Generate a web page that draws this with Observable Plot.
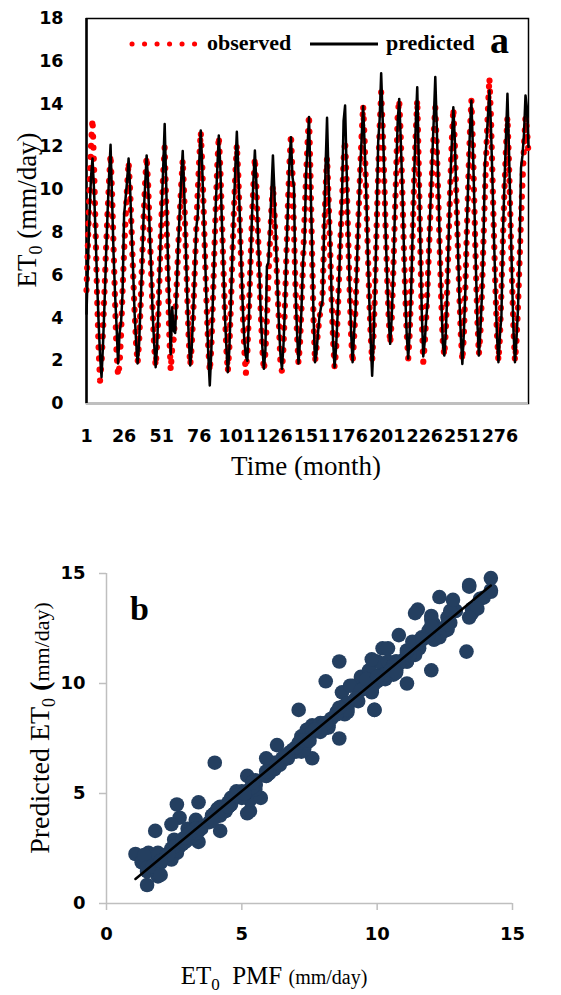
<!DOCTYPE html>
<html><head><meta charset="utf-8">
<script src="https://cdn.jsdelivr.net/npm/d3@7"></script>
<script src="https://cdn.jsdelivr.net/npm/@observablehq/plot@0.6"></script>
<style>
html,body{margin:0;padding:0;background:#fff;}
#wrap{position:relative;width:561px;height:995px;overflow:hidden;background:#fff;}
#a{position:absolute;left:0;top:0;}
#b{position:absolute;left:0;top:480px;}
</style></head><body>
<div id="wrap"><div id="a"></div><div id="b"></div></div>
<script>
// Observed ET0 (mm/day), monthly (red dotted)
const observed = [
 5.3, 7.6, 9.9, 12.0, 13.3,
 11.1, 8.2, 5.2, 2.7, 1.07, 1.9, 3.4, 5.3, 7.2, 8.9, 10.4, 11.65,
 9.8, 7.3, 4.8, 2.4, 1.3, 1.8, 3.3, 5.3, 7.1, 8.7, 10.1, 11.3,
 10.0, 8.1, 6.1, 4.3, 2.8, 1.9, 2.9, 4.6, 6.7, 8.7, 10.3, 11.55,
 10.2, 8.2, 6.2, 4.3, 2.7, 1.75, 2.8, 4.6, 6.9, 8.9, 10.7, 12.0,
 9.4, 6.3, 3.4, 1.55, 2.6, 3.0, 4.2, 5.5, 7.3, 8.8, 10.2, 11.4,
 9.7, 7.4, 5.1, 3.0, 1.8, 2.7, 4.2, 6.2, 8.1, 9.9, 11.4, 12.7,
 11.1, 8.9, 6.5, 4.4, 2.6, 1.5, 2.6, 4.6, 7.0, 9.2, 11.1, 12.5,
 11.0, 8.8, 6.5, 4.4, 2.6, 1.5, 2.6, 4.5, 6.8, 8.9, 10.7, 12.1,
 10.6, 8.5, 6.2, 4.2, 2.5, 1.39, 2.4, 4.2, 6.4, 8.5, 10.2, 11.5,
 10.1, 8.1, 6.0, 4.1, 2.5, 1.55, 2.4, 4.0, 5.9, 7.6, 9.1, 10.2,
 9.0, 7.2, 5.4, 3.8, 1.9, 1.5, 2.6, 4.6, 7.0, 9.3, 11.2, 12.6,
 10.7, 8.1, 5.5, 3.3, 1.9, 2.8, 4.5, 6.5, 8.6, 10.5, 12.1, 13.5,
 10.6, 7.2, 4.0, 1.95, 2.6, 3.4, 4.0, 4.5, 5.0, 7.6, 10.0, 11.5,
 9.7, 7.4, 5.0, 3.0, 1.7, 2.5, 4.0, 5.9, 7.8, 9.5, 11.4, 12.3,
 10.4, 7.9, 5.4, 3.2, 1.9, 3.1, 4.5, 6.7, 8.9, 10.8, 12.5, 13.93,
 12.3, 9.9, 7.4, 5.1, 3.2, 2.0, 3.3, 5.5, 8.3, 10.8, 12.9, 14.55,
 12.9, 10.6, 8.1, 5.9, 4.0, 2.8, 3.9, 6.0, 8.5, 10.8, 13.5, 14.2,
 12.5, 10.1, 7.5, 5.2, 3.3, 2.1, 3.3, 5.5, 8.1, 10.6, 12.6, 14.2,
 11.1, 7.5, 4.1, 1.93, 2.8, 4.1, 5.7, 7.6, 9.4, 11.1, 12.7, 13.85,
 12.0, 9.6, 7.1, 4.8, 2.9, 2.24, 3.4, 5.5, 8.0, 10.3, 12.3, 13.8,
 12.1, 9.8, 7.3, 5.1, 3.2, 2.0, 3.2, 5.4, 8.1, 10.5, 12.6, 14.2,
 12.1, 9.2, 6.3, 3.9, 2.3, 3.3, 5.1, 7.5, 9.8, 11.9, 13.7, 15.22,
 13.4, 10.7, 7.9, 5.4, 3.3, 2.0, 3.1, 5.2, 7.7, 10.0, 11.9, 13.4,
 11.3, 8.6, 5.9, 3.5, 2.0, 2.9, 4.5, 6.6, 8.6, 10.4, 12.0, 13.4,
 12.8, 11.67
];
// Predicted ET0 (mm/day), monthly (black line)
const predicted = [
 4.2, 6.6, 8.8, 10.6, 11.45,
 10.0, 8.0, 5.8, 3.9, 2.25, 1.23, 2.8, 4.7, 6.9, 8.9, 10.6, 12.1,
 9.6, 7.0, 5.1, 3.6, 1.87, 3.3, 3.8, 5.2, 8.8, 9.6, 10.4, 11.45,
 10.1, 8.0, 6.2, 4.2, 2.9, 1.87, 2.8, 4.7, 6.6, 8.8, 10.2, 11.6,
 10.3, 8.1, 6.3, 4.2, 2.8, 1.7, 2.7, 4.8, 7.0, 9.1, 11.0, 13.07,
 10.3, 7.2, 4.6, 2.3, 4.5, 3.4, 3.3, 5.4, 7.4, 9.0, 10.5, 11.8,
 9.9, 7.5, 5.0, 3.1, 1.78, 2.6, 4.3, 6.1, 8.2, 8.8, 11.3, 12.76,
 11.0, 8.7, 6.6, 4.3, 2.3, 0.84, 2.4, 4.7, 6.9, 9.3, 11.0, 12.53,
 11.1, 8.6, 6.5, 4.2, 2.7, 1.46, 2.5, 4.6, 6.9, 9.1, 11.0, 12.7,
 10.9, 8.7, 6.4, 4.4, 2.9, 2.2, 2.0, 4.0, 6.3, 8.6, 10.4, 11.83,
 10.3, 8.0, 6.1, 4.0, 2.6, 1.62, 2.5, 6.4, 6.6, 8.1, 9.9, 11.6,
 9.9, 7.6, 5.5, 3.7, 2.3, 1.62, 2.7, 4.5, 7.1, 9.2, 11.3, 12.45,
 10.6, 10.1, 5.4, 3.4, 1.87, 2.9, 4.4, 6.6, 7.5, 10.6, 12.0, 13.4,
 10.4, 7.4, 4.1, 1.93, 2.4, 3.3, 4.1, 4.5, 4.8, 8.0, 11.0, 13.36,
 10.6, 7.9, 5.1, 2.9, 1.7, 2.6, 4.1, 5.8, 8.0, 9.8, 13.2, 13.93,
 11.0, 8.2, 5.5, 3.3, 1.93, 3.3, 4.4, 6.8, 8.8, 10.9, 12.4, 13.9,
 12.1, 10.0, 7.3, 5.0, 3.0, 1.3, 3.0, 5.6, 8.4, 12.2, 13.3, 15.44,
 13.3, 10.8, 8.0, 5.8, 3.9, 2.79, 4.0, 5.9, 8.6, 10.9, 13.2, 14.24,
 12.4, 10.2, 7.6, 5.1, 3.2, 2.1, 3.4, 5.4, 8.2, 10.8, 13.0, 14.79,
 11.4, 7.7, 4.3, 2.2, 2.9, 4.0, 4.8, 7.8, 9.7, 11.5, 13.3, 15.26,
 12.9, 10.2, 7.3, 4.9, 2.8, 2.24, 3.3, 5.2, 8.1, 10.4, 12.2, 13.85,
 12.3, 9.7, 7.4, 5.0, 3.1, 1.85, 3.3, 5.3, 8.2, 10.6, 12.7, 14.17,
 12.0, 9.3, 6.4, 3.8, 2.24, 3.4, 5.0, 7.4, 11.1, 12.2, 13.4, 14.63,
 13.0, 10.5, 7.8, 5.5, 3.2, 1.93, 3.2, 4.1, 7.9, 10.3, 12.4, 14.48,
 11.9, 8.9, 6.0, 3.4, 1.93, 3.0, 4.4, 6.7, 11.0, 11.6, 12.6, 14.4,
 13.8, 12.0
];
const xTickLabels = [1, 26, 51, 76, 101, 126, 151, 176, 201, 226, 251, 276];
const yTicksA = [0, 2, 4, 6, 8, 10, 12, 14, 16, 18];
const ticksB = [0, 5, 10, 15];

const N = observed.length;
const rows = observed.map((o, i) => ({m: i + 1, o, p: predicted[i]}));
const scatter = rows.filter(d => d.o <= 15 && d.p <= 15);

const SERIF = "'Liberation Serif', 'Times New Roman', serif";
const SANS = "'DejaVu Sans', sans-serif";

// ---------- Panel a ----------
const svgA = Plot.plot({
  width: 561, height: 480,
  marginLeft: 86, marginRight: 33, marginTop: 18, marginBottom: 77,
  x: {domain: [1, N], label: null},
  y: {domain: [0, 18], label: null},
  style: {fontFamily: SANS, background: "white", overflow: "visible"},
  marks: [
    Plot.frame({stroke: "black", strokeWidth: 1.5}),
    Plot.ruleY([0], {stroke: "#bfbfbf", strokeWidth: 2.5}),
    Plot.ruleX([1], {stroke: "black", strokeWidth: 2.5}),
    Plot.axisY({ticks: yTicksA, tickSize: 0, tickPadding: 23, fontSize: 17.5, fontWeight: "bold", fill: "black", label: null, tickFormat: d => String(d)}),
    Plot.axisX({ticks: xTickLabels, tickSize: 0, tickPadding: 26, fontSize: 17.5, fontWeight: "bold", fill: "black", label: null, tickFormat: d => String(d)}),
    Plot.line(rows, {x: "m", y: "o", stroke: "#ff0000", strokeWidth: 6.2, strokeDasharray: "0.1 11", strokeLinecap: "round"}),
    Plot.line(rows, {x: "m", y: "p", stroke: "black", strokeWidth: 2.5})
  ]
});
document.getElementById("a").appendChild(svgA);
{
  const s = d3.select(svgA);
  const yt = s.append("text").attr("transform", "translate(36,210) rotate(-90)")
    .attr("text-anchor", "middle").attr("font-family", SERIF).attr("font-size", 27).attr("fill", "black");
  yt.append("tspan").text("ET");
  yt.append("tspan").attr("font-size", 18).attr("dy", 6).text("0");
  yt.append("tspan").attr("dy", -6).text(" (mm/day)");
  s.append("text").attr("x", 306).attr("y", 475).attr("text-anchor", "middle")
    .attr("font-family", SERIF).attr("font-size", 27).attr("fill", "black").text("Time (month)");
  s.append("line").attr("x1", 132).attr("x2", 197).attr("y1", 44).attr("y2", 44)
    .attr("stroke", "#ff0000").attr("stroke-width", 5).attr("stroke-dasharray", "0.1 12.4").attr("stroke-linecap", "round");
  s.append("text").attr("x", 207).attr("y", 50).attr("text-anchor", "start").attr("font-family", SERIF).attr("font-weight", "bold")
    .attr("font-size", 22).attr("fill", "black").text("observed");
  s.append("line").attr("x1", 310).attr("x2", 378).attr("y1", 44).attr("y2", 44)
    .attr("stroke", "black").attr("stroke-width", 3);
  s.append("text").attr("x", 386).attr("y", 50).attr("text-anchor", "start").attr("font-family", SERIF).attr("font-weight", "bold")
    .attr("font-size", 22).attr("fill", "black").text("predicted");
  s.append("text").attr("x", 490).attr("y", 53).attr("text-anchor", "start").attr("font-family", SERIF).attr("font-weight", "bold")
    .attr("font-size", 38).attr("fill", "black").text("a");
}

// ---------- Panel b ----------
const svgB = Plot.plot({
  width: 561, height: 515,
  marginLeft: 106, marginRight: 49, marginTop: 93, marginBottom: 92,
  x: {domain: [0, 15], label: null},
  y: {domain: [0, 15], label: null},
  style: {fontFamily: SANS, background: "white", overflow: "visible"},
  marks: [
    Plot.axisX({ticks: ticksB, tickSize: 7, tickPadding: 17, stroke: "#bfbfbf", strokeWidth: 1.5, fill: "black", fontSize: 18, fontWeight: "bold", label: null, tickFormat: d => String(d)}),
    Plot.axisY({ticks: ticksB, tickSize: 7, tickPadding: 14, stroke: "#bfbfbf", strokeWidth: 1.5, fill: "black", fontSize: 18, fontWeight: "bold", label: null, tickFormat: d => String(d)}),
    Plot.ruleY([0], {stroke: "#bfbfbf", strokeWidth: 1.5}),
    Plot.ruleX([0], {stroke: "#bfbfbf", strokeWidth: 1.5}),
    Plot.dot(scatter, {x: "o", y: "p", r: 7.3, fill: "#243f60", stroke: "none"}),
    Plot.linearRegressionY(scatter, {x: "o", y: "p", stroke: "black", strokeWidth: 2.5, ci: 0})
  ]
});
document.getElementById("b").appendChild(svgB);
{
  const s = d3.select(svgB);
  s.append("text").attr("x", 130).attr("y", 140).attr("text-anchor", "start").attr("font-family", SERIF).attr("font-weight", "bold")
    .attr("font-size", 34).attr("fill", "black").text("b");
  const yt = s.append("text").attr("transform", "translate(49,248) rotate(-90)")
    .attr("text-anchor", "middle").attr("font-family", SERIF).attr("font-size", 28).attr("fill", "black");
  yt.append("tspan").text("Predicted ET");
  yt.append("tspan").attr("font-size", 18).attr("dy", 6).text("0");
  yt.append("tspan").attr("dy", -6).text(" ");
  yt.append("tspan").attr("font-weight", "bold").text("(");
  yt.append("tspan").attr("font-size", 22).text("mm/day)");
  const xt = s.append("text").attr("x", 274).attr("y", 504).attr("text-anchor", "middle")
    .attr("font-family", SERIF).attr("font-size", 25).attr("fill", "black");
  xt.append("tspan").text("ET");
  xt.append("tspan").attr("font-size", 17).attr("dy", 6).text("0");
  xt.append("tspan").attr("dy", -6).text("\u00a0 PMF ");
  xt.append("tspan").attr("font-size", 20).text("(mm/day)");
}
</script>
</body></html>
